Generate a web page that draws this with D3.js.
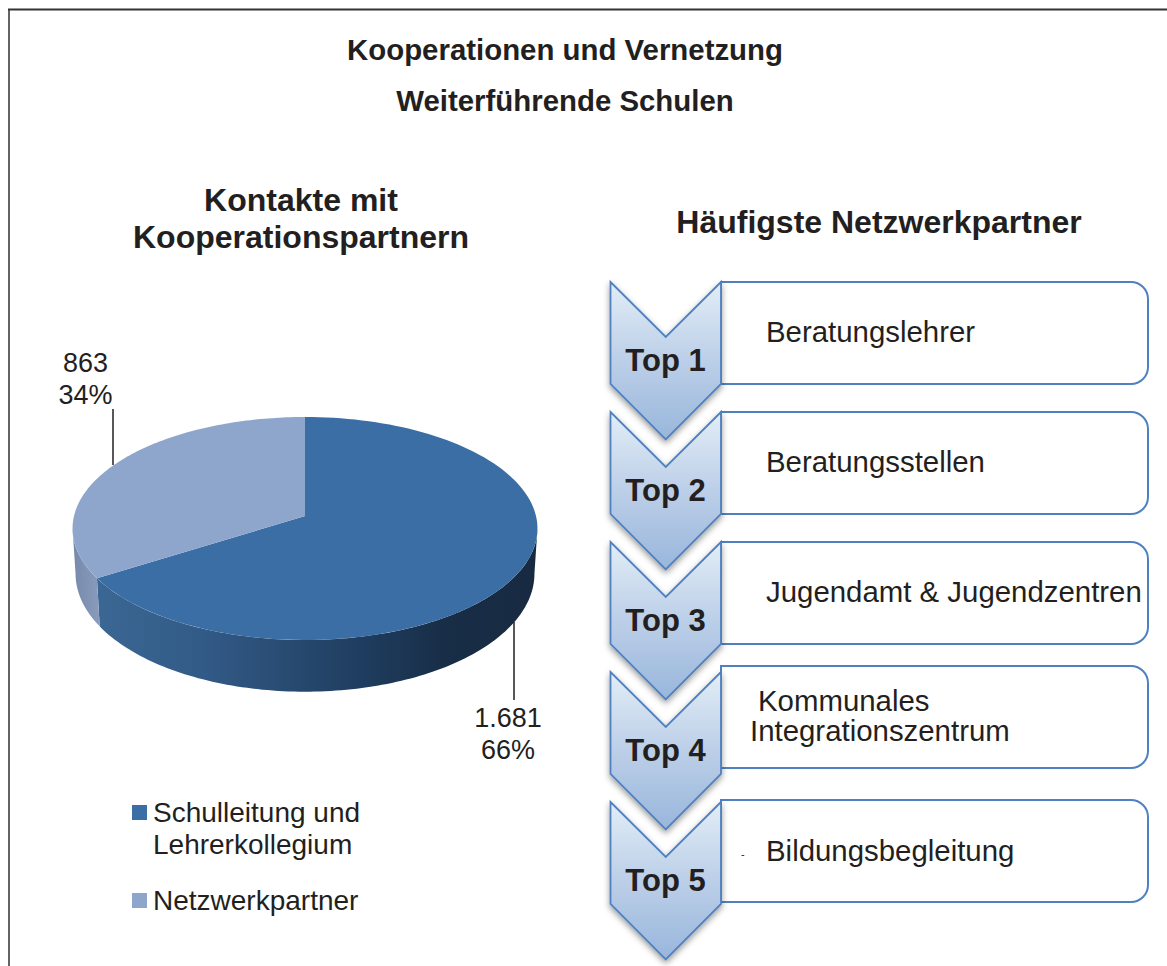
<!DOCTYPE html>
<html>
<head>
<meta charset="utf-8">
<script src="https://cdn.jsdelivr.net/npm/d3@7"></script>
<style>
  html, body { margin: 0; padding: 0; background: #fff; }
  svg { display: block; }
  text { font-family: "Liberation Sans", Arial, sans-serif; fill: #231f20; }
</style>
</head>
<body>
<div id="chart"></div>
<script>
var titleLines = ["Kooperationen und Vernetzung", "Weiterführende Schulen"];
var pieTitleLines = ["Kontakte mit", "Kooperationspartnern"];
var partnerTitle = "Häufigste Netzwerkpartner";

var categories = ["Schulleitung und Lehrerkollegium", "Netzwerkpartner"];
var legendLines = [["Schulleitung und", "Lehrerkollegium"], ["Netzwerkpartner"]];
var values = [1681, 863];
var valueLabels = ["1.681", "863"];
var percentLabels = ["66%", "34%"];

var ranks = ["Top 1", "Top 2", "Top 3", "Top 4", "Top 5"];
var partners = [
    ["Beratungslehrer"],
    ["Beratungsstellen"],
    ["Jugendamt & Jugendzentren"],
    ["Kommunales", "Integrationszentrum"],
    ["Bildungsbegleitung"]
];

var width = 1167, height = 966;

var svg = d3.select("#chart").append("svg")
    .attr("width", width)
    .attr("height", height);

var defs = svg.append("defs");

function addGradient(id, stops, horizontal, x1, x2) {
    var g = defs.append("linearGradient").attr("id", id);
    if (horizontal) {
        g.attr("gradientUnits", "userSpaceOnUse")
            .attr("x1", x1).attr("x2", x2).attr("y1", 0).attr("y2", 0);
    } else {
        g.attr("x1", 0).attr("x2", 0).attr("y1", 0).attr("y2", 1);
    }
    stops.forEach(function (s) {
        g.append("stop").attr("offset", s[0]).attr("stop-color", s[1]);
    });
}

addGradient("wallDark", [[0, "#3b6794"], [0.25, "#325a86"], [0.6, "#1f3d5f"], [0.8, "#182d46"], [1, "#172a41"]], true, 97, 537);
addGradient("wallLight", [[0, "#7689ab"], [1, "#8a9cbe"]], true, 72, 100);
addGradient("chevronFill", [[0, "#e2edf7"], [0.5, "#bccfe8"], [1, "#98b6dc"]], false);

var shadow = defs.append("filter").attr("id", "chevronShadow")
    .attr("x", "-20%").attr("y", "-10%").attr("width", "140%").attr("height", "125%");
shadow.append("feDropShadow")
    .attr("dx", 0).attr("dy", 3).attr("stdDeviation", 3)
    .attr("flood-color", "#000").attr("flood-opacity", 0.4);

// frame, runs off the right and bottom edge of the page
svg.append("path")
    .attr("d", "M9," + height + "V9")
    .attr("fill", "none")
    .attr("stroke", "#636466")
    .attr("stroke-width", 2);
svg.append("path")
    .attr("d", "M8,9.5H" + width)
    .attr("fill", "none")
    .attr("stroke", "#333")
    .attr("stroke-width", 2);

function centeredLines(lines, x, y, lineHeight, size, weight) {
    svg.append("g").selectAll("text")
        .data(lines)
        .enter()
        .append("text")
        .attr("x", x)
        .attr("y", function (d, i) { return y + i * lineHeight; })
        .attr("text-anchor", "middle")
        .attr("font-size", size)
        .attr("font-weight", weight)
        .text(function (d) { return d; });
}

centeredLines(titleLines, 565, 60, 50.5, 29.4, "bold");
centeredLines(pieTitleLines, 301, 211, 37, 32, "bold");
centeredLines([partnerTitle], 879, 233, 0, 32, "bold");

// pie, tilted: the circle goes through a small perspective projection
var persp = 0.112;
var topRim = { cx: 305, cy: 516, rx: 231, ry: 110.1 };
var bottomRim = { cx: 305, cy: 560.5, rx: 228, ry: 116.5 };

function project(rim, a) {
    var u = Math.sin(a), v = -Math.cos(a);
    var d = 1 - persp * v;
    return [rim.cx + rim.rx * u / d, rim.cy + rim.ry * v / d];
}

function arcAngles(a0, a1) {
    return d3.range(0, 121).map(function (i) { return a0 + (a1 - a0) * i / 120; });
}

// widest points of the projected ellipse, the wall is only seen between them
var wallFrom = Math.acos(-persp);
var wallTo = 2 * Math.PI - wallFrom;

var pie = d3.pie().sort(null).value(function (d) { return d; });
var slices = pie(values);
var line = d3.line();
var topColors = ["#3b6ea5", "#8ea6cc"];
var wallColors = ["url(#wallDark)", "url(#wallLight)"];

var pieGroup = svg.append("g");

pieGroup.selectAll("path.wall")
    .data(slices)
    .enter()
    .append("path")
    .attr("class", "wall")
    .attr("d", function (d) {
        var angles = arcAngles(Math.max(d.startAngle, wallFrom), Math.min(d.endAngle, wallTo));
        var upper = angles.map(function (a) { return project(topRim, a); });
        var lower = angles.slice().reverse().map(function (a) { return project(bottomRim, a); });
        return line(upper.concat(lower)) + "Z";
    })
    .attr("fill", function (d, i) { return wallColors[i]; });

pieGroup.selectAll("path.top")
    .data(slices)
    .enter()
    .append("path")
    .attr("class", "top")
    .attr("d", function (d) {
        var pts = arcAngles(d.startAngle, d.endAngle).map(function (a) { return project(topRim, a); });
        return line([[topRim.cx, topRim.cy]].concat(pts)) + "Z";
    })
    .attr("fill", function (d, i) { return topColors[i]; });

// leader lines and data labels
var labelPos = [
    { lx: 514, y1: 622, y2: 700, tx: 508, ty: 727 },
    { lx: 113, y1: 409, y2: 465, tx: 85.5, ty: 372 }
];

svg.append("g").selectAll("line")
    .data(labelPos)
    .enter()
    .append("line")
    .attr("x1", function (d) { return d.lx; })
    .attr("x2", function (d) { return d.lx; })
    .attr("y1", function (d) { return d.y1; })
    .attr("y2", function (d) { return d.y2; })
    .attr("stroke", "#231f20")
    .attr("stroke-width", 1.5);

labelPos.forEach(function (p, i) {
    centeredLines([valueLabels[i], percentLabels[i]], p.tx, p.ty, 32, 27, "normal");
});

// legend
var legendY = d3.scaleOrdinal().domain(categories).range([821, 909]);

var legend = svg.append("g").selectAll("g")
    .data(categories)
    .enter()
    .append("g")
    .attr("transform", function (d) { return "translate(132," + legendY(d) + ")"; });

legend.append("rect")
    .attr("y", -16)
    .attr("width", 15)
    .attr("height", 15)
    .attr("fill", function (d, i) { return topColors[i]; });

legend.each(function (d, i) {
    d3.select(this).selectAll("text")
        .data(legendLines[i])
        .enter()
        .append("text")
        .attr("x", 21)
        .attr("y", function (t, j) { return 1 + j * 32; })
        .attr("font-size", 28)
        .text(function (t) { return t; });
});

// chevrons with their boxes
var chevronTop = d3.scalePoint().domain(ranks).range([282, 802]);
var boxTops = [282, 412, 542, 666, 800];
var textBaselines = [[342], [472], [602], [711, 741], [861]];
var textLefts = [[766], [766], [766], [758, 750], [766]];

var rows = svg.append("g");

// square on the chevron side, rounded on the right
function boxPath(top) {
    var p = d3.path(), l = 721, r = 1148, b = top + 102, c = 17;
    p.moveTo(l, top);
    p.lineTo(r - c, top);
    p.arcTo(r, top, r, top + c, c);
    p.lineTo(r, b - c);
    p.arcTo(r, b, r - c, b, c);
    p.lineTo(l, b);
    p.closePath();
    return p.toString();
}

rows.selectAll("path")
    .data(ranks)
    .enter()
    .append("path")
    .attr("d", function (d, i) { return boxPath(boxTops[i]); })
    .attr("fill", "#fff")
    .attr("stroke", "#4f81c0")
    .attr("stroke-width", 2);

partners.forEach(function (lines, i) {
    rows.append("g").selectAll("text")
        .data(lines)
        .enter()
        .append("text")
        .attr("x", function (d, j) { return textLefts[i][j]; })
        .attr("y", function (d, j) { return textBaselines[i][j]; })
        .attr("font-size", 29.4)
        .text(function (d) { return d; });
});

rows.append("text")
    .attr("x", 741)
    .attr("y", 858)
    .attr("font-size", 11)
    .text("-");

function chevronPath(top) {
    var l = 610.5, r = 721, m = 665.75;
    return line([[l, top], [m, top + 55], [r, top], [r, top + 102], [m, top + 157.5], [l, top + 102]]) + "Z";
}

var chevrons = svg.append("g").selectAll("g")
    .data(ranks)
    .enter()
    .append("g");

chevrons.append("path")
    .attr("d", function (d) { return chevronPath(chevronTop(d)); })
    .attr("fill", "url(#chevronFill)")
    .attr("stroke", "#4f81c0")
    .attr("stroke-width", 1.8)
    .attr("stroke-linejoin", "miter")
    .attr("filter", "url(#chevronShadow)");

chevrons.append("text")
    .attr("x", 665.5)
    .attr("y", function (d) { return chevronTop(d) + 89; })
    .attr("text-anchor", "middle")
    .attr("font-size", 31)
    .attr("font-weight", "bold")
    .text(function (d) { return d; });
</script>
</body>
</html>
